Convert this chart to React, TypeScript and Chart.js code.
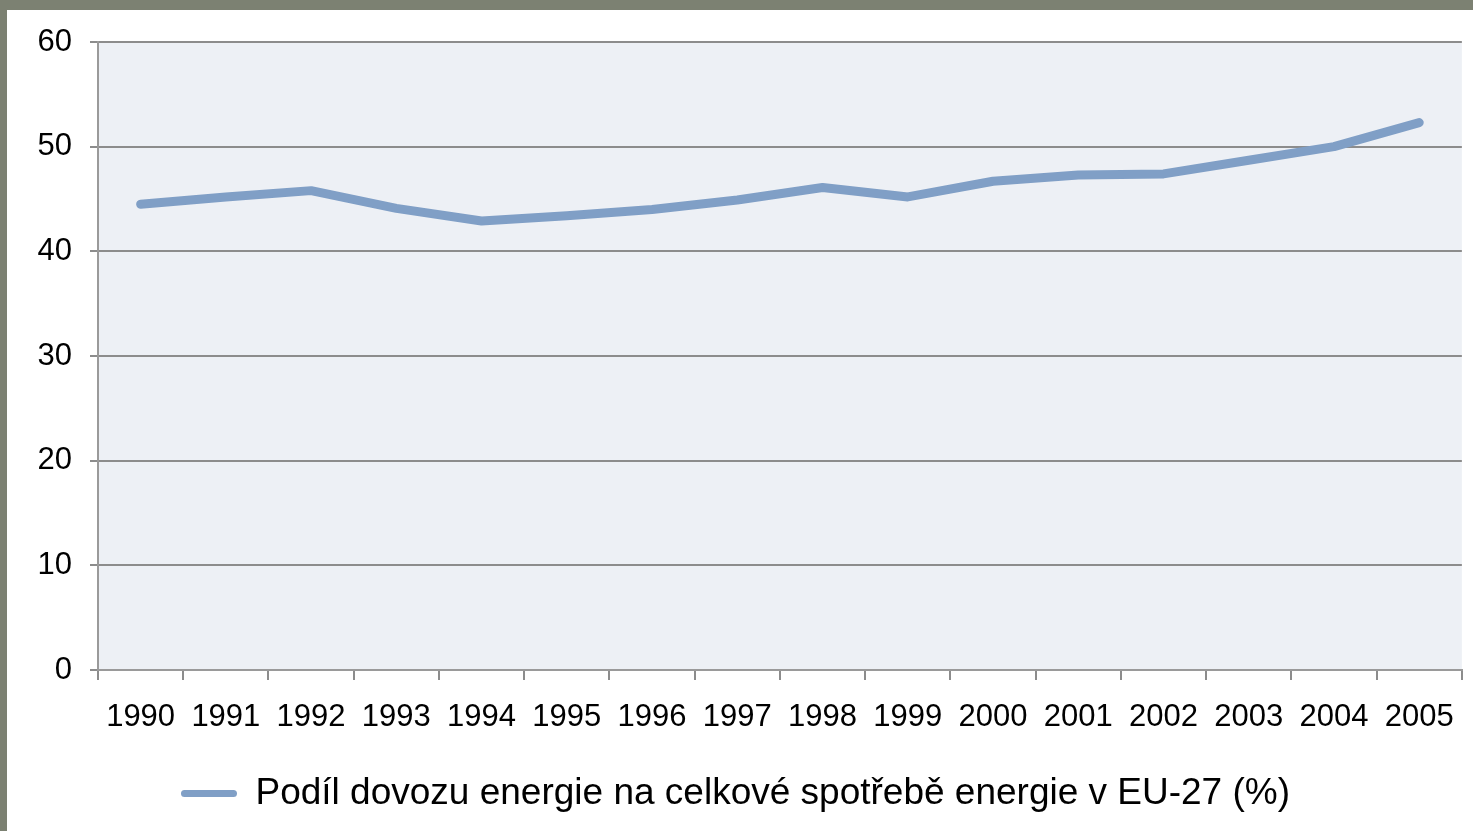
import React, { useEffect, useRef } from "react";
import { Chart, registerables } from "chart.js";

Chart.register(...registerables);

const years = ["1990","1991","1992","1993","1994","1995","1996","1997","1998","1999","2000","2001","2002","2003","2004","2005"];
const importShare = [44.5, 45.2, 45.8, 44.1, 42.9, 43.4, 44.0, 44.9, 46.1, 45.2, 46.7, 47.3, 47.4, 48.7, 50.0, 52.3];
const seriesLabel = "Podíl dovozu energie na celkové spotřebě energie v EU-27 (%)";
const yTicks = [0, 10, 20, 30, 40, 50, 60];

const FONT = "'Liberation Sans', Arial, sans-serif";
const LINE_COLOR = "#809fc6";

const plotBg = {
  id: "plotBg",
  beforeDraw(chart: any) {
    const { ctx, chartArea } = chart;
    ctx.save();
    ctx.fillStyle = "#edf0f5";
    ctx.fillRect(chartArea.left, chartArea.top, chartArea.right - chartArea.left, chartArea.bottom - chartArea.top);
    ctx.restore();
  },
};

export default function App() {
  const ref = useRef<HTMLCanvasElement | null>(null);
  useEffect(() => {
    if (!ref.current) return;
    const chart = new Chart(ref.current, {
      type: "line",
      data: {
        labels: years,
        datasets: [
          {
            label: seriesLabel,
            data: importShare,
            borderColor: LINE_COLOR,
            backgroundColor: LINE_COLOR,
            borderWidth: 9,
            borderCapStyle: "round",
            borderJoinStyle: "round",
            pointRadius: 0,
            tension: 0,
          },
        ],
      },
      options: {
        animation: false,
        responsive: false,
        layout: { padding: { top: 32, right: 9, left: 0, bottom: 9 } },
        plugins: {
          legend: {
            position: "bottom",
            labels: {
              color: "#000",
              font: { family: FONT, size: 37 },
              boxWidth: 56,
              boxHeight: 7,
              useBorderRadius: true,
              borderRadius: 3.5,
              padding: 10,
              generateLabels(chart: any) {
                return chart.data.datasets.map((ds: any, i: number) => ({
                  text: ds.label,
                  fillStyle: LINE_COLOR,
                  strokeStyle: LINE_COLOR,
                  lineWidth: 0,
                  hidden: false,
                  datasetIndex: i,
                  borderRadius: 3.5,
                  fontColor: "#000",
                }));
              },
            },
          },
          tooltip: { enabled: false },
        },
        scales: {
          x: {
            offset: true,
            grid: { offset: true, drawOnChartArea: false, drawTicks: true, tickLength: 10, color: "#8c8c8c", lineWidth: 2 },
            border: { color: "#9a9a9a", width: 2 },
            ticks: { color: "#000", font: { family: FONT, size: 31 }, padding: 19, maxRotation: 0, autoSkip: false },
            afterFit(scale: any) { scale.height = 95; },
          },
          y: {
            min: 0,
            max: 60,
            afterBuildTicks(scale: any) { scale.ticks = yTicks.map((v) => ({ value: v })); },
            grid: { color: "#8c8c8c", lineWidth: 2, tickLength: 8 },
            border: { color: "#9a9a9a", width: 2 },
            ticks: { color: "#000", font: { family: FONT, size: 31, lineHeight: 1 }, padding: 18 },
            afterFit(scale: any) { scale.width = 91; scale.paddingTop = 0; scale.paddingBottom = 0; },
          },
        },
      },
      plugins: [plotBg],
    });
    return () => chart.destroy();
  }, []);

  return (
    <div style={{ position: "fixed", left: 0, top: 0, width: 1473, height: 831, background: "#7c8172", overflow: "hidden" }}>
      <div style={{ position: "absolute", left: 7, top: 10, width: 1466, height: 821, background: "#ffffff" }}>
        <canvas ref={ref} width={1466} height={821} style={{ display: "block" }} />
      </div>
    </div>
  );
}
